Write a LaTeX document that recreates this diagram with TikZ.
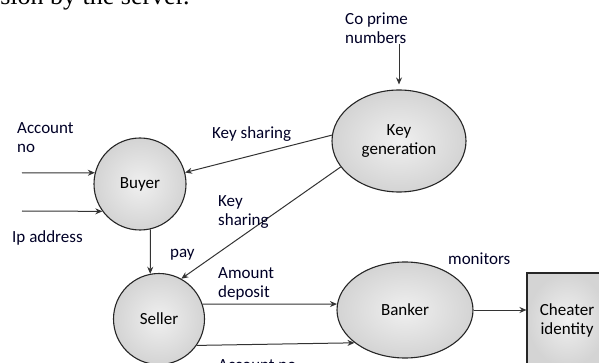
\documentclass[tikz,border=0pt]{standalone}
\usepackage{fontspec}
\setmainfont{Carlito}
\newfontfamily\serifhead{Liberation Serif}
\usetikzlibrary{shapes.geometric,arrows.meta}
\begin{document}
\begin{tikzpicture}[x=1pt,y=-1pt,
  font=\fontsize{17}{19}\selectfont,
  proc/.style={draw=black!85, line width=1.1pt, shading=radial, inner color=gray!12, outer color=gray!34},
  lbl/.style={inner sep=0pt, align=left, anchor=west, text=black!85!blue},
  flow/.style={draw=black!80, line width=1pt, -{Stealth[length=7pt,width=6pt]}}]
\useasboundingbox (0,0) rectangle (599,363);

\node[inner sep=0pt, anchor=base west, font=\serifhead\fontsize{26}{28}\selectfont] (head) at (-10,4.5) {ssion by the server.};

\node[proc, circle, minimum size=92pt] (buyer) at (140,184) {Buyer};
\node[proc, circle, minimum size=91pt] (seller) at (159,319) {Seller};
\node[proc, ellipse, minimum width=134pt, minimum height=102pt, align=center] (keygen) at (399,141) {Key\\generation};
\node[proc, ellipse, minimum width=136pt, minimum height=96pt] (banker) at (405,310) {Banker};
\node[proc, rectangle, minimum width=80pt, minimum height=94pt, align=center] (cheater) at (567,320) {Cheater\\identity};

\coordinate (cp) at (399,44);
\coordinate (acc) at (22,173);
\coordinate (ip) at (22,211);

\draw[flow, shorten >=5pt] (cp) -- (keygen.north);
\draw[flow] (keygen.175) -- (buyer);
\draw[flow] (keygen.-156) -- (seller.61);
\draw[flow] (buyer.-77) -- (seller.101);
\draw[flow] (acc) -- (buyer.166);
\draw[flow] (ip) -- (buyer.216);
\draw[flow] (seller.19) -- (banker.175);
\draw[flow] (seller.-35) -- (banker.213);
\draw[flow] (banker.east) -- (banker.east -| cheater.west);

\node[lbl] (l1) at (17,137.5) {Account\\no};
\node[lbl] (l2) at (12,238) {Ip address};
\node[lbl] (l3) at (212,134) {Key sharing};
\node[lbl] (l4) at (218,212) {Key\\sharing};
\node[lbl] (l5) at (170,255) {pay};
\node[lbl] (l6) at (218,284) {Amount\\deposit};
\node[lbl] (l7) at (218,365.5) {Account no};
\node[lbl] (l8) at (448,259) {monitors};
\node[lbl] (l9) at (345,28) {Co prime\\numbers};
\end{tikzpicture}
\end{document}
